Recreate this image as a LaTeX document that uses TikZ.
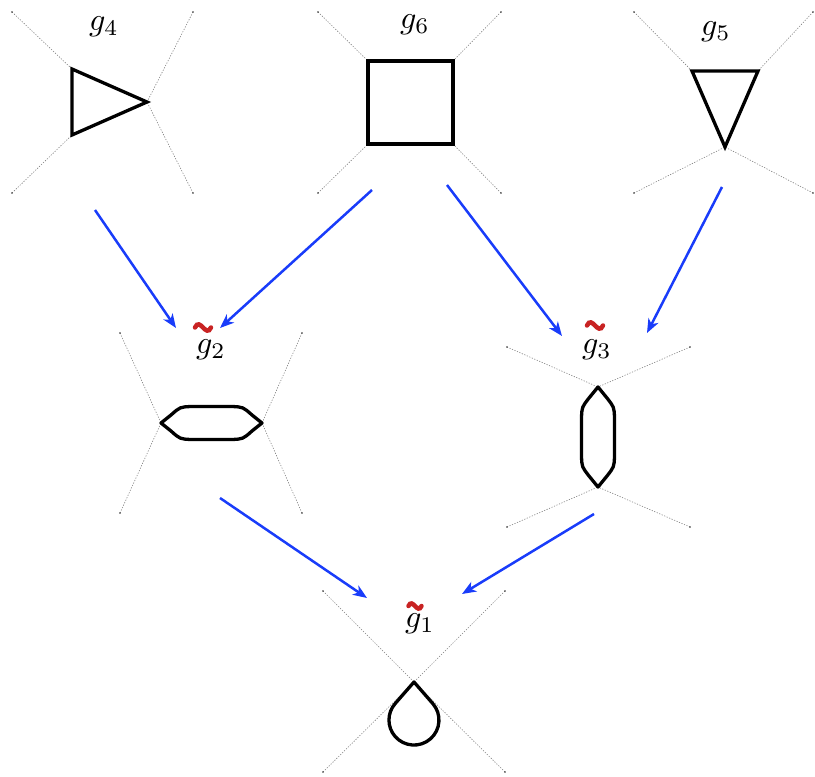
\documentclass[tikz,border=0pt]{standalone}
\usetikzlibrary{arrows.meta}
\definecolor{flowblue}{RGB}{25,60,250}
\definecolor{tildered}{RGB}{200,35,35}
\begin{document}
\begin{tikzpicture}[x=1pt,y=-1pt,
  guide/.style={gray, line width=0.6pt, dash pattern=on 1.2pt off 1.5pt},
  shapeline/.style={line width=3.3pt, line join=miter, fill=white},
  flow/.style={flowblue, line width=2.5pt, -{Stealth[length=14pt,width=11pt,inset=4pt]}},
  lbl/.style={inner sep=0pt, scale=3.2},
  tildemark/.style={tildered, line width=4.5pt, line cap=round},
  enddot/.style={fill=black!80}
]
\useasboundingbox (0,0) rectangle (815,777);

% ---------- g4 ----------
\coordinate (a1) at (12,12);  \coordinate (a2) at (193,12);
\coordinate (a3) at (12,193); \coordinate (a4) at (193,193);
\coordinate (tA) at (72,69); \coordinate (tB) at (72,135); \coordinate (tC) at (147,102);
\draw[guide] (a1) -- (tA); \draw[guide] (a3) -- (tB);
\draw[guide] (a2) -- (tC); \draw[guide] (a4) -- (tC);
\foreach \p in {a1,a2,a3,a4} \fill[enddot] (\p) circle (0.9pt);
\draw[shapeline] (tA) -- (tC) -- (tB) -- cycle;
\node[lbl] (g4) at (104,27) {$g_4$};

% ---------- g6 ----------
\coordinate (b1) at (318,12);  \coordinate (b2) at (501,12);
\coordinate (b3) at (318,193); \coordinate (b4) at (501,193);
\coordinate (sA) at (368,61); \coordinate (sB) at (453,61);
\coordinate (sC) at (453,144); \coordinate (sD) at (368,144);
\draw[guide] (b1) -- (sA); \draw[guide] (b2) -- (sB);
\draw[guide] (b4) -- (sC); \draw[guide] (b3) -- (sD);
\foreach \p in {b1,b2,b3,b4} \fill[enddot] (\p) circle (0.9pt);
\draw[shapeline, line width=3.6pt] (sA) -- (sB) -- (sC) -- (sD) -- cycle;
\node[lbl] (g6) at (415,25) {$g_6$};

% ---------- g5 ----------
\coordinate (c1) at (634,12);  \coordinate (c2) at (813,12);
\coordinate (c3) at (634,193); \coordinate (c4) at (813,193);
\coordinate (uA) at (692,71); \coordinate (uB) at (758,71); \coordinate (uC) at (725,147);
\draw[guide] (c1) -- (uA); \draw[guide] (c2) -- (uB);
\draw[guide] (c3) -- (uC); \draw[guide] (c4) -- (uC);
\foreach \p in {c1,c2,c3,c4} \fill[enddot] (\p) circle (0.9pt);
\draw[shapeline] (uA) -- (uB) -- (uC) -- cycle;
\node[lbl] (g5) at (716,32) {$g_5$};

% ---------- g2 ----------
\coordinate (d1) at (120,333); \coordinate (d2) at (302,333);
\coordinate (d3) at (120,513); \coordinate (d4) at (302,513);
\coordinate (hL) at (161,423); \coordinate (hR) at (262,423);
\draw[guide] (d1) -- (hL); \draw[guide] (d3) -- (hL);
\draw[guide] (d2) -- (hR); \draw[guide] (d4) -- (hR);
\foreach \p in {d1,d2,d3,d4} \fill[enddot] (\p) circle (0.9pt);
\draw[shapeline, line join=round] (hL) -- (171,415) .. controls (180,407) .. (191,406.5) -- (232,406.5)
  .. controls (243,407) .. (252,415) -- (hR) -- (252,431) .. controls (243,439) .. (232,439.5)
  -- (191,439.5) .. controls (180,439) .. (171,431) -- cycle;
\node[lbl] (g2) at (211,350) {$g_2$};
\coordinate (t2) at (203,330);
\draw[tildemark] (t2) ++(-8,-2.5) .. controls +(5,-11) and +(-5,11) .. ++(16,0);

% ---------- g3 ----------
\coordinate (e1) at (507,347); \coordinate (e2) at (690,347);
\coordinate (e3) at (507,527); \coordinate (e4) at (690,527);
\coordinate (vT) at (598,387); \coordinate (vB) at (598,487);
\draw[guide] (e1) -- (vT); \draw[guide] (e2) -- (vT);
\draw[guide] (e3) -- (vB); \draw[guide] (e4) -- (vB);
\foreach \p in {e1,e2,e3,e4} \fill[enddot] (\p) circle (0.9pt);
\draw[shapeline, line join=round] (vT) -- (589,398) .. controls (582,407) .. (581.5,417) -- (581.5,457)
  .. controls (582,467) .. (589,476) -- (vB) -- (607,476) .. controls (614,467) .. (614.5,457)
  -- (614.5,417) .. controls (614,407) .. (607,398) -- cycle;
\node[lbl] (g3) at (597,350) {$g_3$};
\coordinate (t3) at (595,328);
\draw[tildemark] (t3) ++(-8,-2.5) .. controls +(5,-11) and +(-5,11) .. ++(16,0);

% ---------- g1 ----------
\coordinate (f1) at (323,591); \coordinate (f2) at (505,591);
\coordinate (f3) at (323,772); \coordinate (f4) at (505,772);
\coordinate (dA) at (414,682);
\draw[guide] (f1) -- (dA); \draw[guide] (f2) -- (dA);
\draw[guide] (f3) -- (dA); \draw[guide] (f4) -- (dA);
\foreach \p in {f1,f2,f3,f4} \fill[enddot] (\p) circle (0.9pt);
\draw[shapeline, line join=round] (dA) -- (432.8,703.6) arc[start angle=41.1, end angle=-221.1, radius=25pt] -- cycle;
\node[lbl] (g1) at (420,624) {$g_1$};
\coordinate (t1) at (415,608);
\draw[tildemark] (t1) ++(-6.5,-2) .. controls +(4,-9) and +(-4,9) .. ++(13,0);

% ---------- connectors ----------
\coordinate (o4) at (95,210);   \coordinate (i2a) at (176,328);
\coordinate (o6a) at (372,190); \coordinate (i2b) at (220,328);
\coordinate (o6b) at (447,185); \coordinate (i3a) at (562,336);
\coordinate (o5) at (722,187);  \coordinate (i3b) at (647,333);
\coordinate (o2) at (220,498);  \coordinate (i1a) at (367,598);
\coordinate (o3) at (594,514);  \coordinate (i1b) at (462,594);
\draw[flow] (o4) -- (i2a);
\draw[flow] (o6a) -- (i2b);
\draw[flow] (o6b) -- (i3a);
\draw[flow] (o5) -- (i3b);
\draw[flow] (o2) -- (i1a);
\draw[flow] (o3) -- (i1b);
\end{tikzpicture}
\end{document}
